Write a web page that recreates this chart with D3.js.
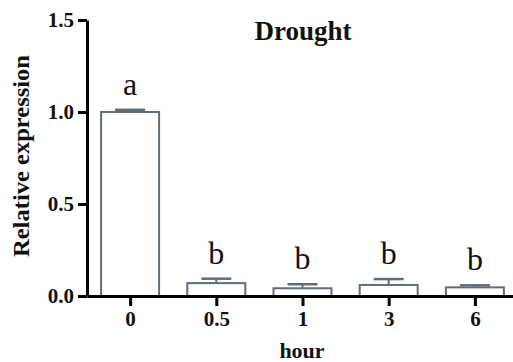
<!DOCTYPE html>
<html>
<head>
<meta charset="utf-8">
<script src="https://cdn.jsdelivr.net/npm/d3@7"></script>
</head>
<body style="margin:0;background:#fff">
<svg id="chart" width="513" height="362"></svg>
<script>
// values
var categories = ["0", "0.5", "1", "3", "6"];
var means = [1.0, 0.07, 0.042, 0.06, 0.047];
var errors = [0.012, 0.024, 0.022, 0.032, 0.011];
var letters = ["a", "b", "b", "b", "b"];
var yTicks = [0, 0.5, 1.0, 1.5];

var serif = "Liberation Serif, Tinos, Times New Roman, DejaVu Serif, serif";
var svg = d3.select("#chart").attr("font-family", serif);
var barColor = "#5f6e79";
var barW = 58, capW = 30;

var x = d3.scalePoint().domain(categories).range([87, 518]).padding(0.5);
var y = d3.scaleLinear().domain([0, 1.5]).range([296, 20]);

var data = categories.map(function(c, i) {
  return { cat: c, mean: means[i], err: errors[i], letter: letters[i] };
});

// bold serif text
function heavy(sel, size) {
  sel.attr("font-family", serif)
    .attr("font-size", size)
    .attr("font-weight", "bold")
    .attr("fill", "#111");
}

// bars
svg.selectAll("rect.bar")
  .data(data)
  .enter().append("rect")
  .attr("class", "bar")
  .attr("x", function(d) { return x(d.cat) - barW / 2; })
  .attr("y", function(d) { return y(d.mean); })
  .attr("width", barW)
  .attr("height", function(d) { return y(0) - y(d.mean); })
  .attr("fill", "#fff")
  .attr("stroke", barColor)
  .attr("stroke-width", 2);

// error bars (upper half only)
var eb = svg.selectAll("g.err").data(data).enter().append("g").attr("class", "err");
eb.append("line")
  .attr("x1", function(d) { return x(d.cat); })
  .attr("x2", function(d) { return x(d.cat); })
  .attr("y1", function(d) { return y(d.mean); })
  .attr("y2", function(d) { return y(d.mean + d.err); })
  .attr("stroke", barColor).attr("stroke-width", 2);
eb.append("line")
  .attr("x1", function(d) { return x(d.cat) - capW / 2; })
  .attr("x2", function(d) { return x(d.cat) + capW / 2; })
  .attr("y1", function(d) { return y(d.mean + d.err); })
  .attr("y2", function(d) { return y(d.mean + d.err); })
  .attr("stroke", barColor).attr("stroke-width", 2.5);

// significance letters
svg.selectAll("text.sig")
  .data(data)
  .enter().append("text")
  .attr("class", "sig")
  .attr("x", function(d) { return x(d.cat); })
  .attr("y", function(d) { return y(d.mean + d.err) - 15; })
  .attr("text-anchor", "middle")
  .attr("font-family", serif)
  .attr("font-size", 32)
  .attr("fill", "#111")
  .text(function(d) { return d.letter; });

// axes
var yAxis = svg.append("g")
  .attr("transform", "translate(87,0)")
  .call(d3.axisLeft(y).tickValues(yTicks).tickFormat(d3.format(".1f")).tickSize(9).tickSizeOuter(0).tickPadding(4));
var xAxis = svg.append("g")
  .attr("transform", "translate(0,296)")
  .call(d3.axisBottom(x).tickSize(10).tickSizeOuter(0).tickPadding(5));

[yAxis, xAxis].forEach(function(g) {
  g.attr("font-family", serif);
  g.select(".domain").attr("stroke", "#000").attr("stroke-width", 3);
  g.selectAll(".tick line").attr("stroke", "#000").attr("stroke-width", 3);
  g.selectAll(".tick text").call(heavy, 21);
});

// titles
svg.append("text")
  .attr("x", 303).attr("y", 40)
  .attr("text-anchor", "middle")
  .call(heavy, 27)
  .text("Drought");

svg.append("text")
  .attr("x", 302).attr("y", 358)
  .attr("text-anchor", "middle")
  .call(heavy, 22)
  .text("hour");

svg.append("text")
  .attr("transform", "translate(29,156) rotate(-90)")
  .attr("text-anchor", "middle")
  .call(heavy, 23)
  .attr("textLength", 202).attr("lengthAdjust", "spacingAndGlyphs")
  .text("Relative expression");
</script>
</body>
</html>
